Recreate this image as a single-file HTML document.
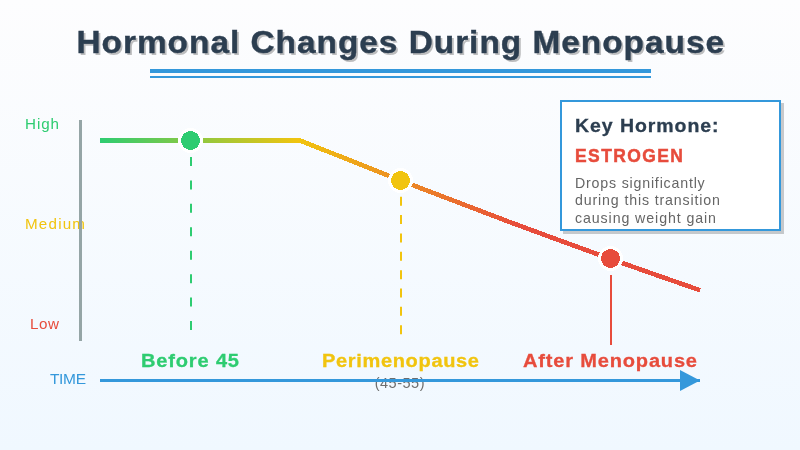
<!DOCTYPE html>
<html>
<head>
<meta charset="utf-8">
<style>
html,body{margin:0;padding:0;width:800px;height:450px;overflow:hidden;}
body{background:linear-gradient(to bottom,#fdfdfe 0%,#f0f8ff 100%);font-family:"Liberation Sans",sans-serif;}
svg{position:absolute;left:0;top:0;display:block;will-change:transform;}
text{font-family:"Liberation Sans",sans-serif;}
</style>
</head>
<body>
<svg width="800" height="450" viewBox="0 0 800 450">
<defs>
<linearGradient id="lg" x1="100" y1="0" x2="700" y2="0" gradientUnits="userSpaceOnUse">
<stop offset="0" stop-color="#2ecc71"/><stop offset="0.33" stop-color="#f1c40f"/><stop offset="0.7" stop-color="#e74c3c"/><stop offset="1" stop-color="#e74c3c"/>
</linearGradient>
<filter id="ts" x="-5%" y="-30%" width="110%" height="160%">
<feGaussianBlur stdDeviation="0.5"/>
</filter>
</defs>

<g filter="url(#ts)"><text x="74.057" y="55" font-size="31.5" font-weight="bold" fill="#000" fill-opacity="0.25" stroke="#000" stroke-opacity="0.25" stroke-width="0" textLength="610.849" lengthAdjust="spacing" transform="scale(1.06,1)">Hormonal Changes During Menopause</text></g>
<text x="72.170" y="53" font-size="31.5" font-weight="bold" fill="#2c3e50" stroke="#2c3e50" stroke-width="0.4" textLength="610.849" lengthAdjust="spacing" transform="scale(1.06,1)">Hormonal Changes During Menopause</text>
<rect x="150" y="69" width="501" height="4" fill="#3498db"/>
<rect x="150" y="76" width="501" height="2" fill="#3498db"/>

<text x="25.000" y="129" font-size="15.2" font-weight="normal" fill="#2ecc71" textLength="34.000" lengthAdjust="spacing">High</text>
<text x="25.000" y="228.6" font-size="15.2" font-weight="normal" fill="#f1c40f" textLength="60.000" lengthAdjust="spacing">Medium</text>
<text x="30.000" y="328.7" font-size="15.2" font-weight="normal" fill="#e74c3c" textLength="29.000" lengthAdjust="spacing">Low</text>
<rect x="79" y="120" width="3" height="221" fill="#95a5a6"/>

<path d="M100,140.5 L300,140.5 Q500,221.5 700,290.2" fill="none" stroke="url(#lg)" stroke-width="4.6" shape-rendering="crispEdges"/>

<line x1="191" y1="157" x2="191" y2="330" stroke="#2ecc71" stroke-width="2" stroke-dasharray="9 14.43"/>
<line x1="401" y1="196.7" x2="401" y2="336" stroke="#f1c40f" stroke-width="2" stroke-dasharray="9 9.36"/>
<line x1="611" y1="275" x2="611" y2="345" stroke="#e74c3c" stroke-width="2"/>

<circle cx="190.5" cy="140.5" r="11" fill="#2ecc71" stroke="#fff" stroke-width="3" shape-rendering="crispEdges"/>
<circle cx="400.5" cy="180.5" r="11" fill="#f1c40f" stroke="#fff" stroke-width="3" shape-rendering="crispEdges"/>
<circle cx="610.5" cy="258.5" r="11" fill="#e74c3c" stroke="#fff" stroke-width="3" shape-rendering="crispEdges"/>

<text x="133.019" y="367" font-size="18.9" font-weight="bold" fill="#2ecc71" stroke="#2ecc71" stroke-width="0.3" textLength="92.453" lengthAdjust="spacing" transform="scale(1.06,1)">Before 45</text>
<text x="303.774" y="367.3" font-size="18.9" font-weight="bold" fill="#f1c40f" stroke="#f1c40f" stroke-width="0.3" textLength="148.113" lengthAdjust="spacing" transform="scale(1.06,1)">Perimenopause</text>
<text x="374.700" y="388" font-size="14.5" font-weight="normal" fill="#6e6e6e" textLength="49.800" lengthAdjust="spacing">(45-55)</text>
<text x="493.396" y="366.9" font-size="18.9" font-weight="bold" fill="#e74c3c" stroke="#e74c3c" stroke-width="0.3" textLength="164.151" lengthAdjust="spacing" transform="scale(1.06,1)">After Menopause</text>

<text x="50.000" y="383.9" font-size="15.5" font-weight="normal" fill="#3498db" textLength="36.000" lengthAdjust="spacing">TIME</text>
<rect x="100" y="379" width="600" height="3" fill="#3498db"/>
<polygon points="680,370 700,380.5 680,391" fill="#3498db"/>

<rect x="563" y="103" width="221" height="131" fill="#000" fill-opacity="0.2"/>
<rect x="561" y="101" width="219" height="129" fill="#fff" stroke="#3498db" stroke-width="2"/>
<text x="542.453" y="131.8" font-size="18.4" font-weight="bold" fill="#2c3e50" stroke="#2c3e50" stroke-width="0.3" textLength="135.377" lengthAdjust="spacing" transform="scale(1.06,1)">Key Hormone:</text>
<text x="605.263" y="161.9" font-size="18.4" font-weight="bold" fill="#e74c3c" stroke="#e74c3c" stroke-width="0.5" textLength="113.684" lengthAdjust="spacing" transform="scale(0.95,1)">ESTROGEN</text>
<text x="575.000" y="188.1" font-size="14.2" font-weight="normal" fill="#666666" textLength="129.700" lengthAdjust="spacing">Drops significantly</text>
<text x="575.000" y="205.2" font-size="14.2" font-weight="normal" fill="#666666" textLength="145.000" lengthAdjust="spacing">during this transition</text>
<text x="575.000" y="222.8" font-size="14.2" font-weight="normal" fill="#666666" textLength="141.000" lengthAdjust="spacing">causing weight gain</text>
</svg>
</body>
</html>
